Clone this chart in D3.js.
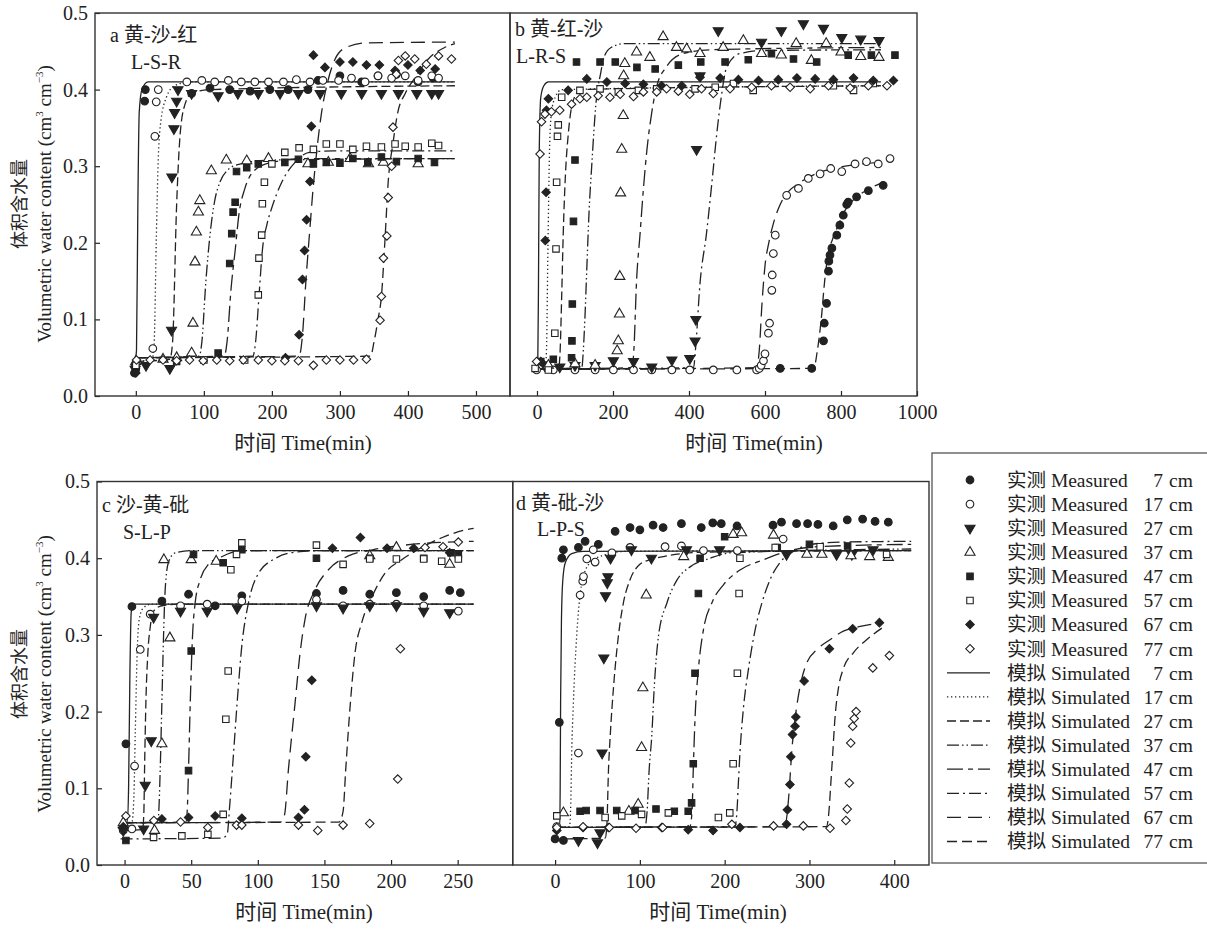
<!DOCTYPE html>
<html>
<head>
<meta charset="utf-8">
<script src="https://d3js.org/d3.v7.min.js"></script>
<style>
  body { margin: 0; background: #fff; }
  text { font-family: "Liberation Serif", "Noto Sans CJK SC", serif; fill: #222; }
</style>
</head>
<body>
<svg width="1207" height="937"></svg>
<script>
// depths and tick labels
var depths = [7, 17, 27, 37, 47, 57, 67, 77];
var yTicks = [0, 0.1, 0.2, 0.3, 0.4, 0.5];
var xTicksA = [0, 100, 200, 300, 400, 500];
var xTicksB = [0, 200, 400, 600, 800, 1000];
var xTicksC = [0, 50, 100, 150, 200, 250];
var xTicksD = [0, 100, 200, 300, 400];
var titles = ["a 黄-沙-红", "b 黄-红-沙", "c 沙-黄-砒", "d 黄-砒-沙"];
var subtitles = ["L-S-R", "L-R-S", "S-L-P", "L-P-S"];

// measured values [time(min), theta], one list per depth 7..77 cm
var measA = [
  [[-2,0.03],[0,0.036],[13,0.385],[14,0.40],[82,0.395],[109,0.402],[138,0.40],[168,0.398],[197,0.40],[224,0.40],[253,0.40],[268,0.412],[300,0.418],[332,0.41],[356,0.418],[383,0.42],[415,0.41],[437,0.415]],
  [[-1,0.04],[25,0.062],[28,0.339],[30,0.384],[33,0.40],[75,0.41],[97,0.412],[116,0.41],[136,0.412],[155,0.41],[175,0.41],[195,0.41],[217,0.41],[236,0.413],[256,0.41],[275,0.412],[298,0.412],[317,0.415],[337,0.41],[356,0.418],[376,0.415],[396,0.418],[415,0.412],[435,0.418],[445,0.415]],
  [[-1,0.035],[15,0.04],[50,0.036],[52.5,0.086],[53,0.286],[56,0.349],[57,0.37],[60,0.385],[62,0.40],[82,0.395],[121,0.392],[150,0.395],[180,0.395],[212,0.395],[239,0.395],[271,0.395],[302,0.395],[332,0.395],[361,0.395],[386,0.395],[413,0.395],[435,0.395],[445,0.395]],
  [[0,0.045],[40,0.048],[60,0.05],[82,0.056],[84,0.095],[87,0.175],[89,0.214],[92,0.24],[94,0.255],[111,0.294],[133,0.308],[163,0.307],[195,0.31],[253,0.303],[283,0.305],[315,0.31],[342,0.303],[364,0.305],[415,0.303]],
  [[0,0.035],[60,0.045],[121,0.056],[138,0.173],[141,0.212],[143,0.24],[146,0.253],[148,0.293],[163,0.298],[180,0.303],[219,0.305],[239,0.309],[261,0.303],[280,0.305],[300,0.304],[319,0.31],[341,0.305],[361,0.312],[383,0.306],[415,0.31],[439,0.305]],
  [[0,0.04],[100,0.047],[160,0.047],[180,0.132],[181,0.18],[185,0.21],[186,0.251],[189,0.279],[200,0.303],[219,0.318],[240,0.324],[261,0.322],[280,0.329],[300,0.329],[319,0.322],[339,0.326],[361,0.325],[381,0.329],[396,0.326],[415,0.325],[435,0.33],[445,0.327]],
  [[0,0.03],[220,0.05],[240,0.08],[245,0.152],[248,0.19],[251,0.23],[256,0.28],[258,0.352],[261,0.445],[278,0.429],[300,0.436],[319,0.436],[339,0.432],[358,0.432],[381,0.425],[400,0.432],[418,0.425],[440,0.427]],
  [[1,0.047],[21,0.047],[40,0.047],[60,0.046],[79,0.047],[99,0.046],[119,0.047],[138,0.046],[158,0.047],[180,0.047],[200,0.046],[219,0.046],[239,0.046],[261,0.04],[280,0.047],[300,0.047],[320,0.047],[339,0.048],[359,0.099],[361,0.13],[364,0.18],[369,0.209],[371,0.259],[376,0.30],[378,0.351],[383,0.42],[386,0.438],[396,0.444],[410,0.44],[427,0.433],[445,0.444],[464,0.44]]
];
var measB = [
  [[640,0.036],[723,0.036],[754,0.072],[756,0.095],[762,0.121],[767,0.163],[768,0.176],[771,0.184],[776,0.193],[789,0.21],[797,0.223],[806,0.236],[815,0.25],[819,0.253],[841,0.26],[872,0.268],[911,0.275]],
  [[-1,0.034],[43,0.034],[100,0.034],[153,0.034],[201,0.034],[254,0.034],[302,0.034],[355,0.034],[402,0.034],[464,0.034],[526,0.034],[578,0.034],[585,0.036],[590,0.04],[596,0.046],[600,0.055],[609,0.082],[612,0.095],[618,0.138],[619,0.158],[622,0.186],[627,0.21],[657,0.262],[688,0.271],[714,0.284],[745,0.29],[773,0.297],[802,0.293],[837,0.303],[867,0.306],[898,0.303],[929,0.31]],
  [[20,0.04],[60,0.038],[100,0.04],[153,0.04],[201,0.046],[254,0.045],[302,0.038],[355,0.047],[402,0.049],[416,0.072],[418,0.1],[420,0.322],[429,0.418],[477,0.477],[591,0.462],[643,0.477],[701,0.486],[754,0.48],[802,0.468],[852,0.466],[900,0.464]],
  [[30,0.04],[100,0.042],[153,0.04],[211,0.059],[214,0.072],[217,0.107],[218,0.156],[220,0.265],[223,0.322],[227,0.366],[228,0.418],[231,0.434],[262,0.449],[297,0.442],[332,0.469],[367,0.455],[394,0.453],[429,0.447],[490,0.455],[543,0.464],[591,0.447],[643,0.445],[682,0.46],[722,0.438],[761,0.46],[800,0.449],[852,0.443],[900,0.442]],
  [[10,0.045],[43,0.048],[91,0.05],[92,0.072],[93,0.12],[96,0.228],[100,0.308],[104,0.436],[166,0.436],[206,0.436],[263,0.429],[311,0.427],[372,0.432],[431,0.436],[495,0.436],[556,0.439],[617,0.447],[675,0.44],[736,0.436],[819,0.445],[880,0.445],[942,0.445]],
  [[-5,0.036],[30,0.034],[47,0.082],[50,0.192],[51.7,0.279],[54,0.339],[56,0.354],[65,0.39],[113,0.399],[166,0.401],[214,0.397],[267,0.399],[315,0.401],[416,0.401],[469,0.403],[517,0.408],[569,0.399],[780,0.405],[833,0.399],[885,0.408]],
  [[10,0.045],[22,0.203],[24,0.266],[25,0.373],[30,0.388],[82,0.399],[131,0.414],[184,0.41],[232,0.408],[280,0.407],[328,0.405],[381,0.405],[429,0.416],[482,0.415],[530,0.413],[583,0.412],[635,0.413],[684,0.415],[732,0.414],[780,0.413],[833,0.415],[885,0.412],[938,0.412]],
  [[-1,0.045],[8,0.316],[12,0.358],[21,0.368],[38,0.371],[60,0.373],[91,0.381],[113,0.388],[131,0.39],[161,0.392],[192,0.39],[219,0.394],[254,0.391],[280,0.397],[315,0.397],[341,0.401],[372,0.398],[402,0.394],[433,0.401],[464,0.395],[508,0.401],[565,0.403],[617,0.405],[666,0.403],[719,0.401],[767,0.405],[824,0.402],[872,0.405],[921,0.405]]
];
var measC = [
  [[-1,0.049],[1,0.158],[5.5,0.337],[28,0.344],[48,0.353],[68,0.338],[88,0.351],[144,0.354],[164,0.358],[184,0.353],[204,0.355],[224.5,0.35],[244,0.358],[252,0.355]],
  [[-1,0.045],[5.5,0.047],[7.5,0.129],[11.75,0.281],[19.25,0.327],[42,0.338],[62,0.34],[88,0.344],[144,0.346],[164,0.338],[184,0.34],[204,0.34],[224.5,0.338],[250.5,0.331]],
  [[-1,0.045],[14.3,0.047],[15.5,0.104],[20,0.162],[21.75,0.323],[42,0.331],[62,0.331],[84.5,0.335],[144,0.338],[164,0.335],[184,0.338],[204,0.338],[224.5,0.331],[244,0.329]],
  [[-1,0.055],[22.5,0.045],[28,0.158],[34,0.296],[29.5,0.398],[50,0.398],[68.75,0.396],[184,0.403],[204,0.414],[244,0.392]],
  [[1,0.032],[48,0.123],[50,0.279],[51.75,0.405],[74,0.394],[88,0.411],[144,0.4],[184,0.4],[224.5,0.4],[245,0.407],[250.5,0.405]],
  [[21.75,0.036],[43,0.038],[62.5,0.04],[74,0.066],[76,0.19],[77.75,0.253],[79.75,0.385],[84,0.405],[88,0.42],[144,0.417],[164,0.392],[184,0.399],[204,0.399],[224.5,0.399],[238,0.396],[250.5,0.399]],
  [[-1,0.05],[28,0.06],[48,0.062],[68,0.064],[88,0.061],[130.5,0.062],[135,0.072],[136,0.141],[140.5,0.241],[156,0.413],[177,0.427],[197,0.413],[217,0.413],[244,0.407]],
  [[1,0.064],[22,0.058],[42,0.056],[62.5,0.049],[84,0.052],[88,0.052],[130.5,0.052],[145,0.045],[164,0.052],[184,0.054],[205,0.112],[207,0.282],[225.5,0.414],[239,0.415],[250.5,0.421]]
];
var measD = [
  [[0,0.034],[9.8,0.032],[5,0.186],[7.9,0.40],[9.8,0.411],[27.5,0.414],[35.4,0.422],[51,0.418],[70.8,0.435],[88.4,0.44],[100,0.437],[115.6,0.443],[127.4,0.44],[149,0.445],[172.4,0.44],[186,0.446],[196,0.445],[214.6,0.442],[257,0.443],[267,0.447],[284.8,0.445],[297.8,0.445],[310,0.444],[328,0.442],[344.6,0.45],[362.7,0.451],[377.4,0.448],[393,0.447]],
  [[2,0.05],[27.5,0.146],[29.5,0.352],[32.6,0.37],[33.5,0.376],[37.4,0.399],[47.2,0.395],[45,0.411],[67,0.407],[88.4,0.414],[129.7,0.415],[149,0.416],[175,0.41],[215,0.41],[269,0.425]],
  [[27.5,0.032],[50,0.029],[53,0.042],[55.4,0.146],[57.5,0.27],[59.5,0.351],[61.5,0.368],[62.3,0.376],[65.4,0.4],[90,0.411],[113.6,0.40],[155,0.411],[194,0.411],[273,0.405],[332,0.405],[350,0.405],[375,0.411]],
  [[9.8,0.068],[87,0.07],[98,0.079],[102,0.153],[103.5,0.231],[107.5,0.352],[151.7,0.402],[210,0.431],[220,0.433],[257.6,0.43],[297,0.405],[314.7,0.405],[349,0.403],[371,0.402],[393,0.401]],
  [[29.5,0.07],[36.6,0.071],[53,0.071],[72.7,0.071],[94.3,0.071],[119,0.073],[140.6,0.07],[157,0.07],[161,0.081],[163,0.132],[165,0.25],[169,0.354],[171,0.4],[200,0.428],[262,0.414],[300,0.418],[345,0.416]],
  [[2,0.064],[59,0.062],[78.6,0.064],[102,0.066],[133.6,0.068],[192.6,0.062],[206,0.068],[210,0.132],[215,0.25],[217,0.354],[218,0.4],[259.6,0.414],[312.6,0.415],[391,0.405]],
  [[2,0.045],[33,0.049],[62.9,0.049],[125.8,0.049],[157,0.046],[186.3,0.045],[218,0.049],[273,0.053],[274,0.072],[277,0.105],[278,0.141],[280,0.17],[283,0.181],[284,0.193],[293.7,0.24],[323.5,0.282],[351,0.308],[382.5,0.316]],
  [[2,0.049],[33,0.05],[64,0.049],[95.5,0.048],[127,0.049],[208.5,0.053],[257.6,0.051],[292.8,0.051],[324.3,0.048],[343,0.058],[344.6,0.073],[347,0.107],[348.7,0.159],[351,0.181],[352.8,0.191],[355,0.2],[374.7,0.257],[394.3,0.273]]
];

// simulated curves [time(min), theta]
var simA = [
  [[-1,0.045],[1,0.06],[3,0.25],[5,0.37],[9,0.40],[18,0.41],[469,0.41]],
  [[-1,0.045],[24,0.048],[27,0.07],[30,0.2],[33,0.31],[37,0.36],[45,0.39],[57,0.405],[80,0.41],[469,0.41]],
  [[-1,0.045],[50,0.048],[54,0.07],[60,0.25],[65,0.34],[72,0.38],[82,0.395],[110,0.40],[469,0.405]],
  [[-1,0.05],[93,0.052],[97,0.07],[103,0.15],[109,0.21],[116,0.255],[124,0.28],[135,0.295],[150,0.302],[200,0.308],[469,0.31]],
  [[-1,0.05],[130,0.052],[134,0.07],[140,0.14],[146,0.19],[152,0.24],[160,0.27],[175,0.295],[200,0.305],[250,0.31],[469,0.31]],
  [[-1,0.05],[172,0.052],[176,0.07],[181,0.13],[186,0.19],[193,0.225],[200,0.246],[215,0.28],[234,0.305],[255,0.318],[290,0.32],[469,0.32]],
  [[-1,0.05],[240,0.052],[245,0.08],[250,0.15],[256,0.22],[260,0.265],[266,0.32],[273,0.37],[282,0.41],[293,0.44],[309,0.455],[340,0.461],[469,0.462]],
  [[-1,0.05],[345,0.052],[350,0.07],[356,0.1],[361,0.13],[366,0.2],[371,0.28],[378,0.33],[385,0.37],[396,0.395],[410,0.415],[430,0.44],[454,0.455],[469,0.46]]
];
var simB = [
  [[-5,0.035],[2,0.04],[4,0.15],[6,0.32],[10,0.39],[18,0.405],[30,0.41],[905,0.41]],
  [[-5,0.035],[22,0.037],[25,0.06],[29,0.2],[33,0.32],[38,0.37],[48,0.39],[65,0.40],[905,0.405]],
  [[-5,0.035],[57,0.037],[61,0.06],[65,0.13],[69,0.21],[75,0.29],[82,0.34],[95,0.385],[115,0.40],[905,0.405]],
  [[-5,0.035],[118,0.037],[122,0.06],[126,0.1],[131,0.165],[137,0.24],[144,0.30],[156,0.386],[167,0.42],[177,0.443],[195,0.455],[230,0.46],[905,0.46]],
  [[-5,0.035],[250,0.037],[255,0.06],[262,0.15],[271,0.21],[280,0.27],[289,0.32],[302,0.37],[315,0.404],[341,0.43],[385,0.447],[455,0.452],[905,0.455]],
  [[-5,0.035],[412,0.037],[417,0.06],[429,0.147],[446,0.212],[460,0.277],[473,0.342],[486,0.394],[499,0.429],[534,0.447],[596,0.451],[905,0.452]],
  [[-5,0.035],[578,0.037],[585,0.06],[592,0.12],[600,0.17],[610,0.2],[622,0.225],[640,0.25],[660,0.266],[690,0.278],[720,0.287],[780,0.297],[840,0.302],[905,0.305]],
  [[-5,0.035],[728,0.036],[738,0.06],[748,0.1],[757,0.15],[766,0.185],[778,0.205],[792,0.222],[808,0.24],[825,0.252],[850,0.263],[880,0.272],[905,0.278]]
];
var simC = [
  [[-3,0.055],[2,0.056],[3,0.1],[4,0.25],[5,0.33],[7,0.34],[262,0.34]],
  [[-3,0.055],[5.5,0.056],[7,0.09],[8,0.17],[9.5,0.28],[11,0.32],[14,0.335],[20,0.34],[262,0.34]],
  [[-3,0.045],[13.5,0.046],[14.5,0.07],[15,0.125],[16,0.212],[17.5,0.277],[19.3,0.311],[21.75,0.331],[28,0.338],[40,0.34],[262,0.34]],
  [[-3,0.055],[24.5,0.056],[25.5,0.065],[26.75,0.125],[28,0.212],[29.25,0.299],[30.5,0.36],[33,0.395],[38,0.407],[50,0.41],[262,0.41]],
  [[-3,0.055],[46,0.056],[47,0.07],[48,0.125],[49.3,0.212],[51,0.299],[53,0.342],[56.75,0.372],[63,0.392],[73,0.402],[85,0.409],[110,0.41],[262,0.41]],
  [[-3,0.034],[73,0.035],[77,0.04],[79,0.08],[81.75,0.145],[84.5,0.212],[88,0.286],[93,0.342],[100.75,0.381],[113.5,0.4],[128.75,0.408],[150,0.41],[262,0.41]],
  [[-3,0.055],[117,0.056],[120,0.065],[123,0.125],[128,0.212],[131.75,0.277],[135.5,0.321],[143,0.359],[153,0.385],[168,0.403],[186,0.411],[210,0.417],[262,0.422]],
  [[-3,0.055],[161,0.056],[164,0.07],[166,0.125],[169.5,0.212],[173,0.277],[178,0.316],[185.75,0.35],[195.75,0.381],[208,0.398],[223,0.414],[238.5,0.427],[256,0.437],[262,0.439]]
];
var simD = [
  [[-3,0.049],[5.5,0.05],[6,0.1],[6.5,0.212],[7.5,0.32],[9,0.37],[12,0.394],[19.6,0.406],[33,0.409],[420,0.41]],
  [[-3,0.049],[17,0.05],[18.5,0.08],[19.6,0.146],[21.6,0.212],[25.5,0.299],[31,0.364],[41,0.394],[55,0.403],[86,0.409],[420,0.41]],
  [[-3,0.034],[59,0.035],[61,0.05],[63,0.125],[65,0.168],[69,0.233],[74.7,0.299],[80.6,0.342],[88.4,0.372],[100,0.392],[112,0.398],[132,0.403],[180,0.408],[420,0.41]],
  [[-3,0.049],[106,0.05],[108.5,0.07],[111,0.125],[114,0.168],[117,0.233],[122,0.299],[132,0.342],[144,0.372],[159.6,0.389],[183,0.4],[207,0.407],[420,0.412]],
  [[-3,0.049],[159,0.05],[161.5,0.07],[163,0.125],[165,0.19],[169,0.255],[175,0.307],[185,0.342],[199,0.366],[218.6,0.385],[246,0.398],[270,0.408],[310,0.415],[420,0.418]],
  [[-3,0.049],[212,0.05],[214.5,0.07],[216,0.103],[218,0.146],[222,0.203],[228,0.255],[236,0.307],[244,0.342],[253.5,0.372],[265,0.394],[281.5,0.409],[301,0.418],[340,0.421],[420,0.422]],
  [[-3,0.049],[271,0.05],[274,0.07],[276.5,0.103],[279,0.146],[283,0.19],[289,0.233],[297,0.264],[309,0.281],[324.6,0.294],[340,0.305],[360,0.311],[387,0.316]],
  [[-3,0.049],[320,0.05],[323,0.07],[325,0.103],[327.5,0.146],[330,0.19],[334.5,0.233],[340,0.256],[352,0.277],[367.7,0.294],[387,0.31]]
];

var svg = d3.select("svg");
var ink = "#222";
var dashes = ["none", "1.3,2.7", "9,4", "12,3,1.5,3,1.5,3", "16,5,5,5", "12,4,2,4", "14,7", "10,5"];
var symType = [d3.symbolCircle, d3.symbolCircle, d3.symbolTriangle, d3.symbolTriangle,
               d3.symbolSquare, d3.symbolSquare, d3.symbolSquare, d3.symbolSquare];
var symSize = [46, 46, 44, 44, 42, 42, 36, 36];
var symRot = [0, 0, 180, 0, 0, 0, 45, 45];
var filled = [true, false, true, false, true, false, true, false];

function drawSymbol(g, i, x, y) {
  g.append("path")
    .attr("d", d3.symbol().type(symType[i]).size(symSize[i])())
    .attr("transform", "translate(" + x + "," + y + ") rotate(" + symRot[i] + ")")
    .attr("fill", filled[i] ? ink : "#fff")
    .attr("stroke", ink)
    .attr("stroke-width", 1.1);
}

var panels = [
  {l: 95, t: 13, r: 510, b: 396, xd: [-60, 550], ticks: xTicksA, meas: measA, sim: simA, yAxis: true, xlab: 303, tx: 110, ty: 42, sx: 131, sy: 69},
  {l: 510, t: 13, r: 917, b: 396, xd: [-71, 1000], ticks: xTicksB, meas: measB, sim: simB, yAxis: false, xlab: 754, tx: 515, ty: 36, sx: 516, sy: 63},
  {l: 97, t: 481.5, r: 512.7, b: 865, xd: [-20.7, 291.3], ticks: xTicksC, meas: measC, sim: simC, yAxis: true, xlab: 304, tx: 102, ty: 512, sx: 123, sy: 539},
  {l: 512.7, t: 481.5, r: 929, b: 865, xd: [-50, 441], ticks: xTicksD, meas: measD, sim: simD, yAxis: false, xlab: 718, tx: 516, ty: 510, sx: 537, sy: 536}
];

panels.forEach(function(p, k) {
  var x = d3.scaleLinear().domain(p.xd).range([p.l, p.r]);
  var y = d3.scaleLinear().domain([0, 0.5]).range([p.b, p.t]);

  svg.append("clipPath").attr("id", "clip" + k)
    .append("rect").attr("x", p.l).attr("y", p.t).attr("width", p.r - p.l).attr("height", p.b - p.t);

  var xa = svg.append("g").attr("transform", "translate(0," + p.b + ")")
    .call(d3.axisBottom(x).tickValues(p.ticks).tickFormat(d3.format("d"))
      .tickSizeInner(-5).tickSizeOuter(0).tickPadding(9));
  xa.select(".domain").remove();
  xa.selectAll("line").attr("stroke", ink).attr("stroke-width", 1.2);
  xa.selectAll("text").attr("font-size", 20).attr("fill", ink)
    .style("font-family", "'Liberation Serif', serif");

  if (p.yAxis) {
    var ya = svg.append("g").attr("transform", "translate(" + p.l + ",0)")
      .call(d3.axisLeft(y).tickValues(yTicks).tickFormat(d3.format(".1f")).tickSizeInner(-5).tickSizeOuter(0).tickPadding(7));
    ya.select(".domain").remove();
    ya.selectAll("line").attr("stroke", ink).attr("stroke-width", 1.2);
    ya.selectAll("text").attr("font-size", 20).attr("fill", ink)
      .style("font-family", "'Liberation Serif', serif");
  }

  svg.append("rect").attr("x", p.l).attr("y", p.t).attr("width", p.r - p.l).attr("height", p.b - p.t)
    .attr("fill", "none").attr("stroke", "#333").attr("stroke-width", 1.4);

  var line = d3.line().x(function(d) { return x(d[0]); }).y(function(d) { return y(d[1]); })
    .curve(d3.curveMonotoneX);
  var cg = svg.append("g").attr("clip-path", "url(#clip" + k + ")");
  p.sim.forEach(function(s, i) {
    cg.append("path").attr("d", line(s)).attr("fill", "none")
      .attr("stroke", ink).attr("stroke-width", 1.3)
      .attr("stroke-dasharray", dashes[i]);
  });

  var mg = svg.append("g").attr("clip-path", "url(#clip" + k + ")");
  p.meas.forEach(function(s, i) {
    s.forEach(function(d) { drawSymbol(mg, i, x(d[0]), y(d[1])); });
  });

  svg.append("text").attr("x", p.tx).attr("y", p.ty).attr("font-size", 20).text(titles[k]);
  svg.append("text").attr("x", p.sx).attr("y", p.sy).attr("font-size", 20).text(subtitles[k]);
  svg.append("text").attr("x", p.xlab).attr("y", p.b + 54).attr("text-anchor", "middle")
    .attr("font-size", 21).text("时间 Time(min)");
});

// y axis titles
[204, 674].forEach(function(cy) {
  svg.append("g").attr("opacity", 0.99)
    .append("text").attr("transform", "translate(26," + cy + ") rotate(-90)")
    .attr("text-anchor", "middle").attr("font-size", 18)
    .style("font-family", "'Noto Sans CJK SC', sans-serif").style("fill", "#222")
    .text("体积含水量");
  var t = svg.append("text").attr("transform", "translate(51," + cy + ") rotate(-90)")
    .attr("text-anchor", "middle").attr("font-size", 19);
  t.append("tspan").text("Volumetric water content (cm");
  t.append("tspan").attr("font-size", 11).attr("dy", -8).text("3");
  t.append("tspan").attr("dy", 8).text(" cm");
  t.append("tspan").attr("font-size", 11).attr("dy", -8).text("−3");
  t.append("tspan").attr("dy", 8).text(")");
});

// legend
svg.append("rect").attr("x", 932).attr("y", 453).attr("width", 290).attr("height", 410)
  .attr("fill", "#fff").attr("stroke", "#555").attr("stroke-width", 1.3);
var lg = svg.append("g");
for (var r = 0; r < 16; r++) {
  var i = r % 8, ly = 480 + r * 24.1;
  if (r < 8) {
    drawSymbol(lg, i, 970, ly);
  } else {
    lg.append("line").attr("x1", 947).attr("x2", 990).attr("y1", ly).attr("y2", ly)
      .attr("stroke", ink).attr("stroke-width", 1.3).attr("stroke-dasharray", dashes[i]);
  }
  lg.append("text").attr("x", 1007).attr("y", ly).attr("dy", "0.35em").attr("font-size", 19.5)
    .text(r < 8 ? "实测 Measured" : "模拟 Simulated");
  lg.append("text").attr("x", 1163).attr("y", ly).attr("dy", "0.35em").attr("font-size", 19.5)
    .attr("text-anchor", "end").text(depths[i]);
  lg.append("text").attr("x", 1169).attr("y", ly).attr("dy", "0.35em").attr("font-size", 19.5)
    .text("cm");
}
</script>
</body>
</html>
